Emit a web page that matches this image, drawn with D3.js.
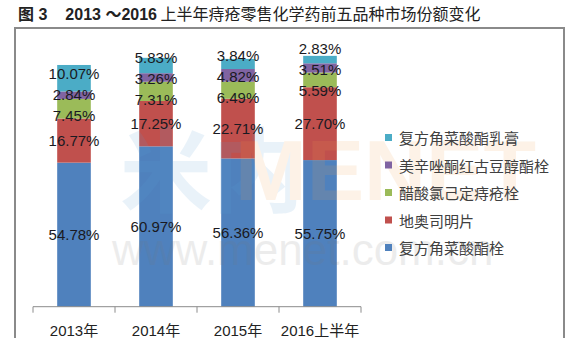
<!DOCTYPE html>
<html>
<head>
<meta charset="utf-8">
<script src="https://cdn.jsdelivr.net/npm/d3@7"></script>
<style>
  body { margin: 0; background: #fff; }
  svg { display: block; font-family: "Liberation Sans", Arial, "Noto Sans CJK SC", sans-serif; }
</style>
</head>
<body>
<svg id="chart"></svg>
<script>
// categories along the x axis
const years = ['2013年', '2014年', '2015年', '2016上半年'];

// series, bottom to top of each stack
const seriesNames = ['复方角菜酸酯栓', '地奥司明片', '醋酸氯己定痔疮栓', '美辛唑酮红古豆醇酯栓', '复方角菜酸酯乳膏'];
const seriesColors = ['#4F81BD', '#C0504D', '#9BBB59', '#8064A2', '#4BACC6'];

// market share values (%) per series, one per year
const fufangShuan = [54.78, 60.97, 56.36, 55.75];
const diaosimingPian = [16.77, 17.25, 22.71, 27.70];
const cusuanLvjiding = [7.45, 7.31, 6.49, 5.59];
const meixinZuotong = [2.84, 3.26, 4.82, 3.51];
const fufangRugao = [10.07, 5.83, 3.84, 2.83];

const seriesValues = [fufangShuan, diaosimingPian, cusuanLvjiding, meixinZuotong, fufangRugao];

const titleText = '2013 ～2016';
const titleRest = ' 上半年痔疮零售化学药前五品种市场份额变化';

const W = 586, H = 338;
const svg = d3.select('#chart').attr('width', W).attr('height', H);

// build a table for d3.stack
const table = years.map((y, i) => {
    const row = { year: y };
    seriesNames.forEach((s, j) => { row[s] = seriesValues[j][i]; });
    return row;
});
const stacked = d3.stack().keys(seriesNames)(table);

// title
const title = svg.append('text')
    .attr('x', 18)
    .attr('y', 20)
    .attr('font-size', 16)
    .attr('fill', '#222');
title.append('tspan').attr('font-weight', 'bold').text('图 3');
title.append('tspan').attr('dx', 18).attr('font-weight', 'bold').text(titleText);
title.append('tspan').attr('font-family', '"Noto Sans CJK SC", sans-serif').text(titleRest);

// outer frame (bottom runs past the picture)
svg.append('rect')
    .attr('x', 15).attr('y', 28)
    .attr('width', 549).attr('height', 330)
    .attr('fill', 'none')
    .attr('stroke', '#8a8a8a')
    .attr('stroke-width', 2);

// scales
const x = d3.scaleBand()
    .domain(years)
    .range([33, 361])
    .paddingInner(0.59)
    .paddingOuter(0.295);

const y = d3.scaleLinear()
    .domain([0, 100])
    .range([306.7, 43.7]);

// bars
const layers = svg.append('g').selectAll('g')
    .data(stacked)
    .join('g')
    .attr('fill', (d, i) => seriesColors[i]);

layers.selectAll('rect')
    .data(d => d)
    .join('rect')
    .attr('x', d => x(d.data.year))
    .attr('width', x.bandwidth())
    .attr('y', d => y(d[1]))
    .attr('height', d => y(d[0]) - y(d[1]));

// faint watermark laid over the plot
const wm = svg.append('g').attr('pointer-events', 'none').attr('opacity', 0.13);
wm.append('text')
    .attr('x', 120).attr('y', 205)
    .attr('font-size', 92).attr('font-weight', 'bold')
    .attr('fill', '#5aa0d8')
    .attr('font-family', '"Noto Sans CJK SC", sans-serif')
    .text('米内');
wm.append('text')
    .attr('x', 235).attr('y', 200)
    .attr('font-size', 86).attr('font-weight', 'bold')
    .attr('fill', '#f0a050')
    .text('MENET');
wm.append('text')
    .attr('x', 112).attr('y', 265)
    .attr('font-size', 44)
    .attr('fill', '#777')
    .text('www.menet.com.cn');

// x axis
const axisGroup = svg.append('g')
    .attr('transform', 'translate(0,306.7)');
axisGroup.append('line')
    .attr('x1', 33).attr('x2', 361)
    .attr('stroke', '#8c8c8c');
const tickXs = [33].concat(years.map(yr => x(yr) + x.bandwidth() / 2 + x.step() / 2));
axisGroup.selectAll('.tick')
    .data(tickXs)
    .join('line')
    .attr('class', 'tick')
    .attr('x1', d => d).attr('x2', d => d)
    .attr('y1', 0).attr('y2', 6)
    .attr('stroke', '#8c8c8c');
axisGroup.selectAll('.cat')
    .data(years)
    .join('text')
    .attr('class', 'cat')
    .attr('x', d => x(d) + x.bandwidth() / 2)
    .attr('y', 24)
    .attr('text-anchor', 'middle')
    .attr('dominant-baseline', 'central')
    .attr('font-size', 15)
    .attr('fill', '#222')
    .text(d => d);

// data labels: centre of each segment, spread apart where they crowd
const minGap = 21;
years.forEach((yr, i) => {
    let labels = stacked.map((s, j) => ({
        text: seriesValues[j][i].toFixed(2) + '%',
        pos: y((s[i][0] + s[i][1]) / 2)
    }));
    // relax overlapping neighbours (ordered bottom to top => decreasing y)
    for (let iter = 0; iter < 200; iter++) {
        let moved = false;
        for (let k = 0; k < labels.length - 1; k++) {
            const lo = labels[k], hi = labels[k + 1];
            const gap = lo.pos - hi.pos;
            if (gap < minGap - 0.01) {
                const push = (minGap - gap) / 2;
                lo.pos += push;
                hi.pos -= push;
                moved = true;
            }
        }
        if (!moved) break;
    }
    svg.append('g').selectAll('text')
        .data(labels)
        .join('text')
        .attr('x', x(yr) + x.bandwidth() / 2)
        .attr('y', d => d.pos)
        .attr('text-anchor', 'middle')
        .attr('dominant-baseline', 'central')
        .attr('font-size', 15)
        .attr('fill', '#1a1a22')
        .text(d => d.text);
});

// legend, top item is the top series
const legend = svg.append('g')
    .selectAll('g')
    .data(seriesNames.slice().reverse())
    .join('g')
    .attr('transform', (d, i) => `translate(385, ${137.5 + i * 27.5})`);

legend.append('rect')
    .attr('x', 0).attr('y', -3.5)
    .attr('width', 7).attr('height', 7)
    .attr('fill', d => seriesColors[seriesNames.indexOf(d)]);

legend.append('text')
    .attr('x', 14)
    .attr('y', 0)
    .attr('dominant-baseline', 'central')
    .attr('font-size', 15)
    .attr('font-family', '"Noto Sans CJK SC", sans-serif')
    .attr('fill', '#404040')
    .text(d => d);
</script>
</body>
</html>
